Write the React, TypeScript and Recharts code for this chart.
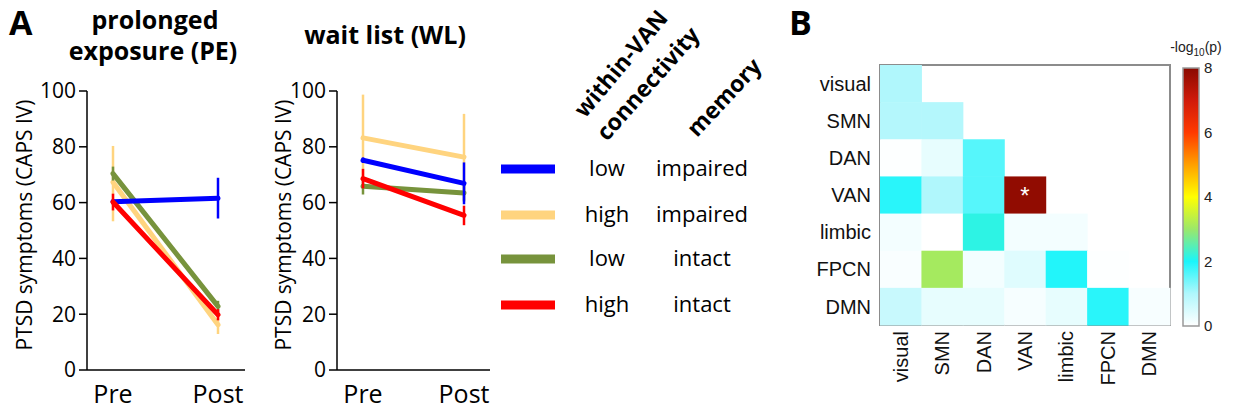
import React from 'react';
import {
  LineChart,
  Line,
  XAxis,
  YAxis,
  ErrorBar,
  ScatterChart,
  Scatter,
  BarChart,
  Bar,
  ReferenceArea,
} from 'recharts';

const FONT_A = '"Open Sans", sans-serif';
const FONT_B = '"Liberation Sans", Arial, sans-serif';

const TIMEPOINTS = ['Pre', 'Post'];
const SCORE_TICKS = [0, 20, 40, 60, 80, 100];

// prolonged exposure: mean CAPS at Pre / Post, error as [below, above]
const PE_LOW_IMPAIRED = [60.3, 61.6];
const PE_LOW_IMPAIRED_ERR = [[1, 1], [7.3, 7.3]];
const PE_HIGH_IMPAIRED = [67.3, 16.2];
const PE_HIGH_IMPAIRED_ERR = [[14, 13], [3.3, 3.3]];
const PE_LOW_INTACT = [70.4, 22.8];
const PE_LOW_INTACT_ERR = [[2.5, 2.5], [2, 2]];
const PE_HIGH_INTACT = [60.2, 19.8];
const PE_HIGH_INTACT_ERR = [[3, 3], [2, 2]];

// wait list
const WL_LOW_IMPAIRED = [75.2, 66.9];
const WL_LOW_IMPAIRED_ERR = [[1, 1], [7.5, 7.5]];
const WL_HIGH_IMPAIRED = [83.2, 76.3];
const WL_HIGH_IMPAIRED_ERR = [[15.5, 15.5], [15.5, 15.5]];
const WL_LOW_INTACT = [65.9, 63.4];
const WL_LOW_INTACT_ERR = [[3, 3], [3, 3]];
const WL_HIGH_INTACT = [68.6, 55.4];
const WL_HIGH_INTACT_ERR = [[3.5, 3.5], [3.5, 3.5]];

// legend order
const GROUPS = [
  { key: 'lowImpaired', conn: 'low', memory: 'impaired', color: '#0000ff' },
  { key: 'highImpaired', conn: 'high', memory: 'impaired', color: '#ffd47f' },
  { key: 'lowIntact', conn: 'low', memory: 'intact', color: '#77933c' },
  { key: 'highIntact', conn: 'high', memory: 'intact', color: '#ff0000' },
];
// drawing order (last on top)
const DRAW_ORDER = ['highImpaired', 'lowIntact', 'lowImpaired', 'highIntact'];

// panel B
const NETWORKS = ['visual', 'SMN', 'DAN', 'VAN', 'limbic', 'FPCN', 'DMN'];
const ROW_VISUAL = [1.0];
const ROW_SMN = [0.95, 0.95];
const ROW_DAN = [0.03, 0.3, 1.6];
const ROW_VAN = [1.9, 1.0, 1.6, 7.9];
const ROW_LIMBIC = [0.15, 0, 2.15, 0.15, 0.15];
const ROW_FPCN = [0.08, 3.1, 0.15, 0.4, 1.95, 0.02];
const ROW_DMN = [0.7, 0.3, 0.3, 0.12, 0.3, 1.9, 0.1];
const SIGNIFICANT = [['VAN', 'VAN']];
const COLORBAR_TICKS = [0, 2, 4, 6, 8];

const CMAP: [number, string][] = [
  [0, '#ffffff'],
  [1, '#b0f7fc'],
  [2, '#1af5fa'],
  [3, '#9be86a'],
  [4, '#ffff00'],
  [5, '#ffa000'],
  [6, '#ff3a00'],
  [7, '#d01a0a'],
  [8, '#8a0a00'],
];

function hex(c: string) {
  return [1, 3, 5].map((i) => parseInt(c.slice(i, i + 2), 16));
}

function colorFor(v: number) {
  const x = Math.max(0, Math.min(8, v));
  for (let i = 0; i < CMAP.length - 1; i++) {
    const [v0, c0] = CMAP[i];
    const [v1, c1] = CMAP[i + 1];
    if (x <= v1) {
      const t = (x - v0) / (v1 - v0);
      const a = hex(c0);
      const b = hex(c1);
      const m = a.map((ch, k) => Math.round(ch + (b[k] - ch) * t));
      return `rgb(${m[0]},${m[1]},${m[2]})`;
    }
  }
  return CMAP[CMAP.length - 1][1];
}

function buildRows(
  values: Record<string, number[]>,
  errs: Record<string, number[][]>
) {
  return TIMEPOINTS.map((t, i) => {
    const row: Record<string, any> = { t };
    for (const k of Object.keys(values)) {
      row[k] = values[k][i];
      row[k + 'Err'] = errs[k][i];
    }
    return row;
  });
}

const peRows = buildRows(
  {
    lowImpaired: PE_LOW_IMPAIRED,
    highImpaired: PE_HIGH_IMPAIRED,
    lowIntact: PE_LOW_INTACT,
    highIntact: PE_HIGH_INTACT,
  },
  {
    lowImpaired: PE_LOW_IMPAIRED_ERR,
    highImpaired: PE_HIGH_IMPAIRED_ERR,
    lowIntact: PE_LOW_INTACT_ERR,
    highIntact: PE_HIGH_INTACT_ERR,
  }
);

const wlRows = buildRows(
  {
    lowImpaired: WL_LOW_IMPAIRED,
    highImpaired: WL_HIGH_IMPAIRED,
    lowIntact: WL_LOW_INTACT,
    highIntact: WL_HIGH_INTACT,
  },
  {
    lowImpaired: WL_LOW_IMPAIRED_ERR,
    highImpaired: WL_HIGH_IMPAIRED_ERR,
    lowIntact: WL_LOW_INTACT_ERR,
    highIntact: WL_HIGH_INTACT_ERR,
  }
);

const HEAT_ROWS = [ROW_VISUAL, ROW_SMN, ROW_DAN, ROW_VAN, ROW_LIMBIC, ROW_FPCN, ROW_DMN];
const heatCells = HEAT_ROWS.flatMap((vals, r) =>
  vals.map((v, c) => ({
    x: c + 0.5,
    y: r + 0.5,
    v,
    star: SIGNIFICANT.some(([a, b]) => a === NETWORKS[r] && b === NETWORKS[c]),
  }))
);
const MID_TICKS = NETWORKS.map((_, i) => i + 0.5);

const HEAT_W = 290;
const HEAT_H = 260;

function SymptomChart({ rows, left, width, plotW, padL, padR }: any) {
  const byKey = Object.fromEntries(GROUPS.map((g) => [g.key, g]));
  return (
    <div style={{ position: 'absolute', left, top: 0 }}>
      <LineChart
        width={width}
        height={411}
        data={rows}
        margin={{ top: 91, right: width - 87 - plotW, bottom: 0, left: 0 }}
      >
        <XAxis
          dataKey="t"
          padding={{ left: padL, right: padR }}
          tickLine={false}
          axisLine={{ stroke: '#000', strokeWidth: 1.5 }}
          tick={{ fill: '#000', fontSize: 25, fontFamily: FONT_A }}
          tickMargin={9}
          height={41}
          interval={0}
        />
        <YAxis
          domain={[0, 100]}
          ticks={SCORE_TICKS}
          width={87}
          tickSize={8}
          tickMargin={3}
          axisLine={{ stroke: '#000', strokeWidth: 1.5 }}
          tickLine={{ stroke: '#000', strokeWidth: 1.5 }}
          tick={{ fill: '#000', fontSize: 21, fontFamily: FONT_A }}
        />
        {DRAW_ORDER.map((k) => (
          <Line
            key={k}
            dataKey={k}
            stroke={byKey[k].color}
            strokeWidth={5}
            strokeLinecap="round"
            dot={false}
            isAnimationActive={false}
          >
            <ErrorBar
              dataKey={k + 'Err'}
              direction="y"
              width={0}
              stroke={byKey[k].color}
              strokeWidth={2.5}
              isAnimationActive={false}
            />
          </Line>
        ))}
      </LineChart>
    </div>
  );
}

function HeatCell(props: any) {
  const { cx, cy, payload } = props;
  const cw = HEAT_W / NETWORKS.length;
  const ch = HEAT_H / NETWORKS.length;
  return (
    <g>
      <rect x={cx - cw / 2} y={cy - ch / 2} width={cw + 0.5} height={ch + 0.5} fill={colorFor(payload.v)} />
      {payload.star && (
        <text x={cx} y={cy + 9} textAnchor="middle" fill="#fff" fontSize={24} fontFamily={FONT_B}>
          *
        </text>
      )}
    </g>
  );
}

function ColTick({ x, y, payload }: any) {
  const name = NETWORKS[Math.floor(payload.value)];
  const yy = y - 2;
  return (
    <text
      x={x}
      y={yy}
      transform={`rotate(-90, ${x}, ${yy})`}
      textAnchor="end"
      dominantBaseline="central"
      fontSize={20}
      fontFamily={FONT_B}
      fill="#111"
    >
      {name}
    </text>
  );
}

function Heatmap() {
  return (
    <div style={{ position: 'absolute', left: 780, top: 55 }}>
      <ScatterChart width={400} height={356} margin={{ top: 10, right: 10, left: 0, bottom: 0 }}>
        <XAxis
          type="number"
          dataKey="x"
          domain={[0, 7]}
          ticks={MID_TICKS}
          interval={0}
          height={86}
          axisLine={false}
          tickLine={false}
          tick={<ColTick />}
        />
        <YAxis
          type="number"
          dataKey="y"
          domain={[0, 7]}
          reversed
          ticks={MID_TICKS}
          interval={0}
          width={100}
          axisLine={false}
          tickLine={false}
          tickSize={0}
          tickMargin={9}
          tickFormatter={(v: number) => NETWORKS[Math.floor(v)]}
          tick={{ fill: '#111', fontSize: 20, fontFamily: FONT_B }}
        />
        <Scatter data={heatCells} shape={<HeatCell />} isAnimationActive={false} />
        <ReferenceArea x1={0} x2={7} y1={0} y2={7} fill="none" stroke="#8c8c8c" strokeWidth={2} ifOverflow="visible" />
      </ScatterChart>
    </div>
  );
}

function ColorBar() {
  const stops = CMAP.slice().reverse();
  return (
    <div style={{ position: 'absolute', left: 1160, top: 58 }}>
      <BarChart
        width={73}
        height={280}
        data={[{ k: 'cb', v: 8 }]}
        margin={{ top: 10, right: 0, left: 23, bottom: 12 }}
        barCategoryGap={0}
      >
        <defs>
          <linearGradient id="cbGrad" x1="0" y1="0" x2="0" y2="1">
            {stops.map(([v, c]) => (
              <stop key={v} offset={`${((8 - v) / 8) * 100}%`} stopColor={c} />
            ))}
          </linearGradient>
        </defs>
        <XAxis dataKey="k" hide />
        <YAxis
          orientation="right"
          domain={[0, 8]}
          ticks={COLORBAR_TICKS}
          width={34}
          axisLine={false}
          tickLine={false}
          tickSize={0}
          tickMargin={5}
          tick={{ fill: '#222', fontSize: 15, fontFamily: FONT_B }}
        />
        <Bar dataKey="v" fill="url(#cbGrad)" stroke="#999" strokeWidth={1.5} isAnimationActive={false} />
      </BarChart>
    </div>
  );
}

function Overlay() {
  const legendY = [169, 215, 259, 305];
  return (
    <svg
      width={1233}
      height={411}
      style={{ position: 'absolute', left: 0, top: 0, pointerEvents: 'none' }}
    >
      <text x={9} y={35} fontSize={34} fontWeight="bold" fontFamily={FONT_A}>A</text>
      <text x={789} y={35} fontSize={34} fontWeight="bold" fontFamily={FONT_A}>B</text>

      <g fontFamily={FONT_A} fontWeight="bold" fontSize={25} textAnchor="middle">
        <text x={155} y={29}>prolonged</text>
        <text x={153} y={60}>exposure (PE)</text>
        <text x={385} y={44}>wait list (WL)</text>
      </g>

      <g fontFamily={FONT_A} fontSize={21} textAnchor="middle" dominantBaseline="central">
        <text transform="translate(24,225) rotate(-90)">PTSD symptoms (CAPS IV)</text>
        <text transform="translate(283,225) rotate(-90)">PTSD symptoms (CAPS IV)</text>
      </g>

      <g fontFamily={FONT_A} fontWeight="bold" fontSize={23}>
        <text transform="translate(585,119) rotate(-50)">within-VAN</text>
        <text transform="translate(607,142) rotate(-48.5)">connectivity</text>
        <text transform="translate(697,138) rotate(-47)">memory</text>
      </g>

      {GROUPS.map((g, i) => (
        <g key={g.key}>
          <line x1={501} x2={555} y1={legendY[i]} y2={legendY[i]} stroke={g.color} strokeWidth={9} />
          <text x={607} y={legendY[i] + 7} textAnchor="middle" fontSize={22} fontFamily={FONT_A}>
            {g.conn}
          </text>
          <text x={702} y={legendY[i] + 7} textAnchor="middle" fontSize={22} fontFamily={FONT_A}>
            {g.memory}
          </text>
        </g>
      ))}

      <text x={1196} y={52} textAnchor="middle" fontSize={14} fontFamily={FONT_B} fill="#222">
        -log
        <tspan fontSize={10} dy={4}>10</tspan>
        <tspan dy={-4}>(p)</tspan>
      </text>
    </svg>
  );
}

export default function App() {
  return (
    <div
      style={{
        position: 'relative',
        width: 1233,
        height: 411,
        margin: -8,
        background: '#fff',
        overflow: 'hidden',
      }}
    >
      <SymptomChart rows={peRows} left={0} width={260} plotW={158} padL={26} padR={27} />
      <SymptomChart rows={wlRows} left={250} width={250} plotW={153} padL={26} padR={26} />
      <Heatmap />
      <ColorBar />
      <Overlay />
    </div>
  );
}
